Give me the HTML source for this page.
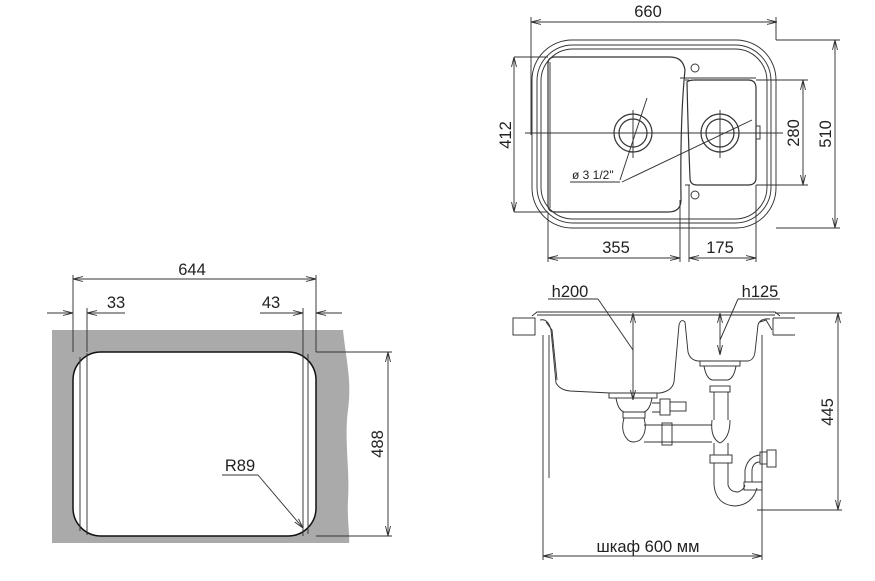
<!DOCTYPE html>
<html><head><meta charset="utf-8"><style>
html,body{margin:0;padding:0;background:#fff;}
svg{display:block;}
text{font-family:"Liberation Sans",Arial,sans-serif;fill:#222;}
</style></head><body>
<svg width="875" height="581" viewBox="0 0 875 581" xmlns="http://www.w3.org/2000/svg">
<defs>
<marker id="a" markerWidth="10" markerHeight="6" refX="10" refY="3" orient="auto-start-reverse" markerUnits="userSpaceOnUse">
<path d="M0,0.5 L10,3 L0,5.5" fill="none" stroke="#333" stroke-width="0.9"/>
</marker>
</defs>
<g stroke="#333" stroke-width="0.95" fill="none">
<path d="M52,330 H343 C346,360 352,380 348,410 C344,440 350,470 348,500 C347,520 350,535 349,543 H52 Z" fill="#aaaaaa" stroke="none"/>
<rect x="73" y="352" width="243" height="184" rx="28" fill="#fff" stroke="#111" stroke-width="1.5"/>
<line x1="80" y1="357" x2="80" y2="531"/>
<line x1="87" y1="353" x2="87" y2="535"/>
<line x1="303" y1="352" x2="303" y2="536"/>
<line x1="308" y1="354" x2="308" y2="534"/>
<line x1="73" y1="275" x2="73" y2="352"/>
<line x1="316" y1="275" x2="316" y2="352"/>
<line x1="87" y1="308" x2="87" y2="352"/>
<line x1="303" y1="308" x2="303" y2="352"/>
<line x1="73" y1="279" x2="316" y2="279" marker-start="url(#a)" marker-end="url(#a)"/>
<line x1="47" y1="313" x2="73" y2="313" marker-end="url(#a)"/>
<line x1="87" y1="313" x2="125" y2="313" marker-start="url(#a)"/>
<line x1="260" y1="313" x2="303" y2="313" marker-end="url(#a)"/>
<line x1="316" y1="313" x2="342" y2="313" marker-start="url(#a)"/>
<line x1="316" y1="352" x2="392" y2="352"/>
<line x1="316" y1="536" x2="392" y2="536"/>
<line x1="388" y1="352" x2="388" y2="536" marker-start="url(#a)" marker-end="url(#a)"/>
<line x1="222" y1="475" x2="258" y2="475"/>
<line x1="258" y1="475" x2="303" y2="528" marker-end="url(#a)"/>

<rect x="532" y="40" width="244" height="188" rx="40"/>
<rect x="537" y="45" width="234" height="178" rx="36"/>
<rect x="541" y="49" width="226" height="170" rx="32"/>
<path d="M555,57 H670 Q683,57 685,70 Q680,120 681,200 Q681,212 668,212 H555 Q548,212 548,205 V64 Q548,57 555,57 Z" stroke-width="1.2"/>
<path d="M550,62 V208"/>
<path d="M687,82 Q689,80 695,80 H748 Q756,80 756,88 V178 Q756,185 748,185 H697 Q690,185 690,178 Q688,130 687,82 Z" stroke-width="1.2"/>
<path d="M685,80 H689 M685,185 H690"/>
<line x1="680" y1="78" x2="756" y2="78"/>
<circle cx="695" cy="68" r="4"/>
<circle cx="695" cy="195" r="4"/>
<rect x="756" y="126" width="4" height="13"/>
<circle cx="633" cy="133" r="19" stroke-width="1.2"/>
<circle cx="633" cy="133" r="14" stroke-width="1.2"/>
<circle cx="720" cy="133" r="19" stroke-width="1.2"/>
<circle cx="720" cy="133" r="14" stroke-width="1.2"/>
<line x1="633" y1="110" x2="633" y2="158"/>
<line x1="720" y1="110" x2="720" y2="158"/>
<line x1="525" y1="133" x2="783" y2="133"/>
<line x1="647" y1="98" x2="620" y2="180"/>
<line x1="570" y1="182" x2="620" y2="182"/>
<line x1="622" y1="182" x2="752" y2="120"/>
<line x1="531" y1="17" x2="531" y2="135"/>
<line x1="776" y1="17" x2="776" y2="40"/>
<line x1="531" y1="22" x2="777" y2="22" marker-start="url(#a)" marker-end="url(#a)"/>
<line x1="514" y1="57" x2="548" y2="57"/>
<line x1="514" y1="212" x2="548" y2="212"/>
<line x1="514" y1="57" x2="514" y2="212" marker-start="url(#a)" marker-end="url(#a)"/>
<line x1="756" y1="80" x2="808" y2="80"/>
<line x1="756" y1="185" x2="808" y2="185"/>
<line x1="803" y1="80" x2="803" y2="185" marker-start="url(#a)" marker-end="url(#a)"/>
<line x1="776" y1="40" x2="840" y2="40"/>
<line x1="776" y1="228" x2="840" y2="228"/>
<line x1="835" y1="40" x2="835" y2="228" marker-start="url(#a)" marker-end="url(#a)"/>
<line x1="548" y1="212" x2="548" y2="262"/>
<line x1="680" y1="200" x2="680" y2="262"/>
<line x1="689" y1="185" x2="689" y2="262"/>
<line x1="756" y1="185" x2="756" y2="262"/>
<line x1="548" y1="258" x2="680" y2="258" marker-start="url(#a)" marker-end="url(#a)"/>
<line x1="689" y1="258" x2="756" y2="258" marker-start="url(#a)" marker-end="url(#a)"/>

<rect x="513" y="318" width="22" height="17"/>
<path d="M773,318 H795 M773,335 H795 M773,318 V335"/>
<path d="M532,316 L537,312 H775 L780,316"/>
<line x1="537" y1="315" x2="775" y2="315"/>
<path d="M540,320 Q548,318 551,330 L556,383 Q560,390 570,391 L610,393 H660 Q672,391 674,382 L679,325 Q681,318 685,322"/>
<path d="M546,322 L552,330 L557,380"/>
<path d="M685,322 L688,352 Q690,360 698,361 H748 Q754,360 755,352 L758,325 Q760,318 770,319"/>
<path d="M760,322 L766,320 L772,330"/>
<rect x="609" y="393" width="48" height="5"/>
<path d="M616,398 Q618,410 624,412 H644 Q650,410 652,398"/>
<rect x="623" y="412" width="22" height="6"/>
<path d="M624,418 Q620,432 628,440 Q633,444 640,440 Q648,432 644,418"/>
<path d="M652,403 H660 M652,412 H660"/>
<rect x="660" y="399" width="10" height="16"/>
<rect x="670" y="402" width="16" height="9"/>
<path d="M644,425 H712 M644,442 H712"/>
<rect x="662" y="423" width="10" height="22"/>
<rect x="700" y="361" width="40" height="5"/>
<path d="M704,366 Q706,378 712,380 H728 Q734,378 736,366"/>
<rect x="710" y="386" width="20" height="6"/>
<path d="M714,392 V420 M728,392 V420"/>
<path d="M712,420 Q710,438 720,443 Q730,438 730,420"/>
<path d="M714,443 V455 M728,443 V455"/>
<rect x="710" y="455" width="22" height="8"/>
<path d="M714,463 V485 Q716,505 735,506 Q752,505 757,488 M728,463 V485 Q730,492 738,492 Q744,490 745,485"/>
<rect x="744" y="482" width="18" height="8"/>
<path d="M745,482 V470 Q748,456 760,455 M752,482 V470 Q753,462 760,462"/>
<rect x="760" y="452" width="7" height="12"/>
<rect x="767" y="450" width="9" height="17"/>
<line x1="543" y1="335" x2="543" y2="560"/>
<line x1="549" y1="335" x2="549" y2="478"/>
<line x1="762" y1="335" x2="762" y2="560"/>
<line x1="757" y1="510" x2="842" y2="510"/>
<line x1="775" y1="313" x2="842" y2="313"/>
<line x1="838" y1="313" x2="838" y2="510" marker-start="url(#a)" marker-end="url(#a)"/>
<line x1="543" y1="556" x2="762" y2="556" marker-start="url(#a)" marker-end="url(#a)"/>
<line x1="633" y1="313" x2="633" y2="400" marker-start="url(#a)" marker-end="url(#a)"/>
<line x1="720" y1="313" x2="720" y2="355" marker-start="url(#a)" marker-end="url(#a)"/>
<line x1="548" y1="299" x2="598" y2="299"/>
<line x1="598" y1="299" x2="633" y2="350"/>
<line x1="738" y1="299" x2="780" y2="299"/>
<line x1="738" y1="299" x2="720" y2="340"/>
</g>
<g font-size="16.5">
<text x="192" y="275" text-anchor="middle">644</text>
<text x="116" y="308" text-anchor="middle">33</text>
<text x="271" y="308" text-anchor="middle">43</text>
<text x="240" y="471" text-anchor="middle">R89</text>
<text transform="translate(383,444) rotate(-90)" text-anchor="middle">488</text>
<text x="648" y="17" text-anchor="middle">660</text>
<text transform="translate(511,135) rotate(-90)" text-anchor="middle">412</text>
<text transform="translate(799,133) rotate(-90)" text-anchor="middle">280</text>
<text transform="translate(831,134) rotate(-90)" text-anchor="middle">510</text>
<text x="616" y="253" text-anchor="middle">355</text>
<text x="720" y="253" text-anchor="middle">175</text>
<text x="570" y="297" text-anchor="middle">h200</text>
<text x="760" y="297" text-anchor="middle">h125</text>
<text x="648" y="552" text-anchor="middle">шкаф 600 мм</text>
<text transform="translate(833,412) rotate(-90)" text-anchor="middle">445</text>
</g>
<text x="572" y="179" font-size="12">ø 3 1/2"</text>
</svg>
</body></html>
